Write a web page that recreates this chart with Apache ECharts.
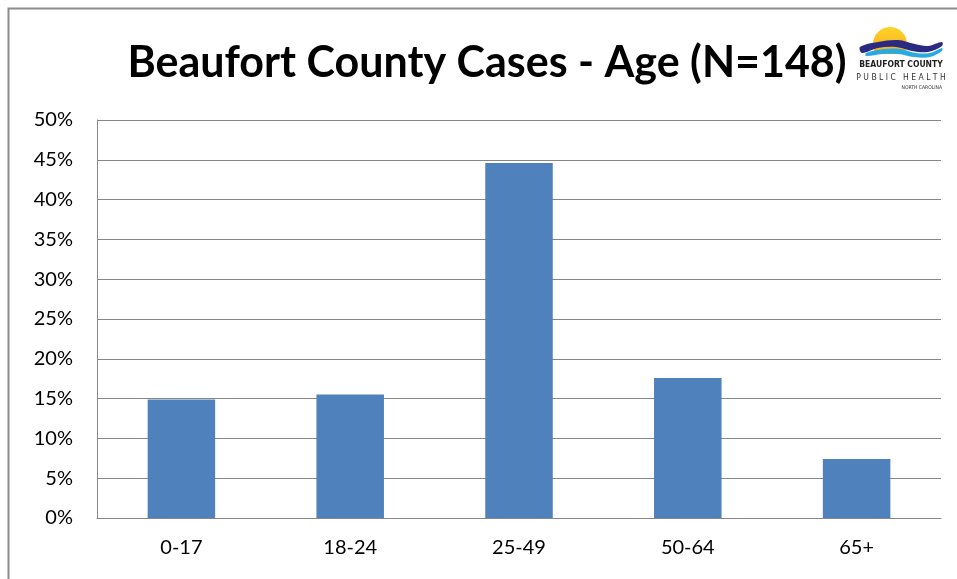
<!DOCTYPE html>
<html>
<head>
<meta charset="utf-8">
<script src="https://cdn.jsdelivr.net/npm/echarts@6/dist/echarts.min.js"></script>
<style>html,body{margin:0;padding:0;background:#fff}#c{width:957px;height:579px}</style>
</head>
<body>
<div id="c"></div>
<script>
const categories = ['0-17', '18-24', '25-49', '50-64', '65+'];
const percentValues = [14.9, 15.5, 44.6, 17.6, 7.4];
const yTicks = [0, 5, 10, 15, 20, 25, 30, 35, 40, 45, 50];
const titleText = 'Beaufort County Cases - Age (N=148)';

const chart = echarts.init(document.getElementById('c'));
chart.setOption({
  animation: false,
  backgroundColor: '#fff',
  title: {
    text: titleText,
    left: 482, top: 37, textAlign: 'center',
    textStyle: { fontFamily: 'Lato', fontWeight: 'bold', fontSize: 43, color: '#000' }
  },
  grid: { left: 97, right: 16, top: 120, bottom: 61, containLabel: false },
  xAxis: {
    type: 'category', data: categories,
    axisLine: { lineStyle: { color: '#868686', width: 1 } },
    axisTick: { show: false },
    axisLabel: { fontFamily: 'Lato', fontSize: 20, color: '#000', margin: 20 }
  },
  yAxis: {
    type: 'value', min: yTicks[0], max: yTicks[yTicks.length - 1], interval: 5,
    axisLine: { show: true, lineStyle: { color: '#868686', width: 1 } },
    axisTick: { show: false },
    splitLine: { lineStyle: { color: '#868686', width: 1 } },
    axisLabel: { fontFamily: 'Lato', fontSize: 20, color: '#000', margin: 24, formatter: '{value}%' }
  },
  series: [{
    type: 'bar', data: percentValues, barCategoryGap: '60%',
    itemStyle: { color: '#4F81BD' }
  }],
  graphic: [
    { type: 'rect', shape: { x: 8.5, y: 8.5, width: 1200, height: 800 }, style: { fill: 'none', stroke: '#8c8c8c', lineWidth: 2 }, silent: true, z: 100 },
    { type: 'circle', shape: { cx: 890, cy: 44, r: 17 }, style: { fill: new echarts.graphic.LinearGradient(0, 0, 0, 1, [{ offset: 0, color: '#FFD428' }, { offset: 1, color: '#F5A01E' }]) }, z: 10 },
    { type: 'rect', shape: { x: 860, y: 54, width: 90, height: 8 }, style: { fill: '#fff' }, z: 10.5 },
    { type: 'polygon', shape: { smooth: 0.35, points: [[860,47],[878,42],[898,40],[915,44],[928,46],[942,42],[942,46],[928,52],[912,51],[896,47],[878,48],[862,53]] }, style: { fill: '#2B2A82' }, z: 11 },
    { type: 'polygon', shape: { smooth: 0.35, points: [[866,53],[884,49],[900,49],[916,53],[930,53],[942,48],[942,51],[930,57],[914,57],[898,54],[882,54],[866,56]] }, style: { fill: '#2AA8E0' }, z: 11 },
    { type: 'text', x: 901, y: 60, style: { text: 'BEAUFORT COUNTY', align: 'center', verticalAlign: 'top', fontFamily: 'DejaVu Sans Condensed', fontWeight: 'bold', fontSize: 8.5, fill: '#222' }, z: 12 },
    { type: 'text', x: 901, y: 73, style: { text: 'P U B L I C   H E A L T H', align: 'center', verticalAlign: 'top', fontFamily: 'DejaVu Sans Condensed', fontSize: 8.5, fill: '#333' }, z: 12 },
    { type: 'text', x: 942, y: 85, style: { text: 'NORTH CAROLINA', align: 'right', verticalAlign: 'top', fontFamily: 'DejaVu Sans Condensed', fontSize: 5, fill: '#333' }, z: 12 }
  ]
});
</script>
</body>
</html>
